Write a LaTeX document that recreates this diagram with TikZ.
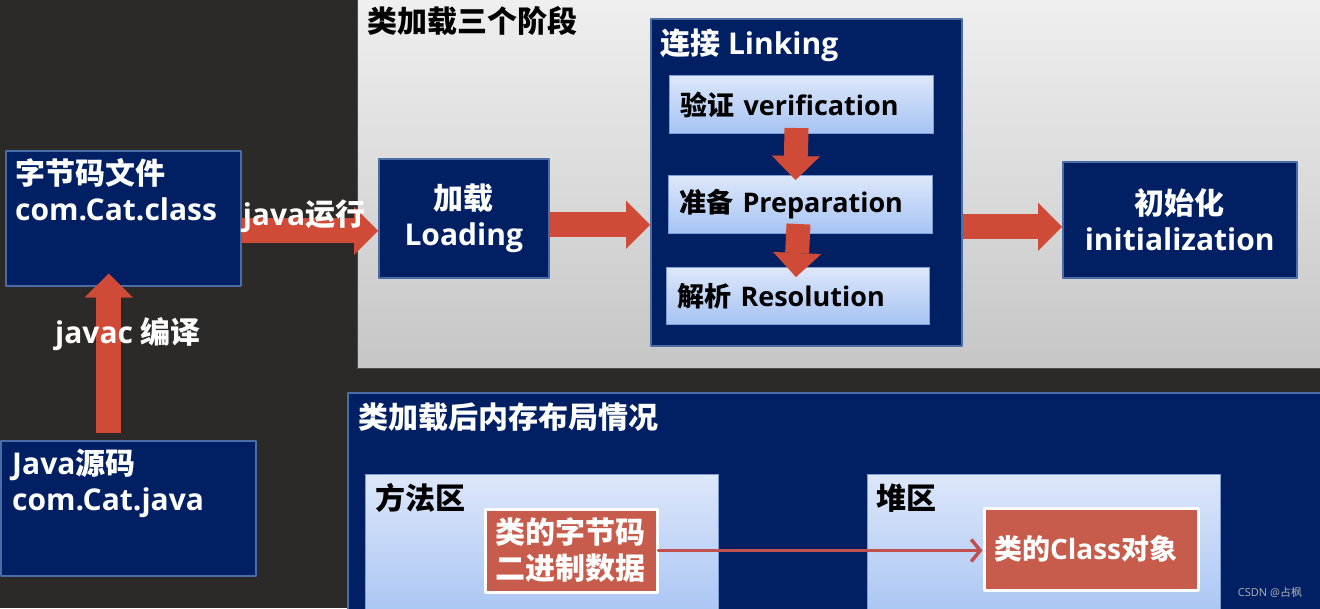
\documentclass[tikz,border=0pt]{standalone}
\usepackage{fontspec}
\setmainfont{Open Sans}
\newfontfamily\cjk{Noto Sans CJK SC}
\newcommand\zh[1]{{\cjk #1}}
\usetikzlibrary{arrows.meta,positioning}
\definecolor{board}{HTML}{2B2A29}
\definecolor{navy}{HTML}{012064}
\definecolor{navyedge}{HTML}{4A6DA7}
\definecolor{arrowred}{HTML}{D04B37}
\definecolor{boxred}{HTML}{C75B4C}
\definecolor{linered}{HTML}{C0504D}
\definecolor{paleblue}{HTML}{DDE7FA}
\definecolor{skyblue}{HTML}{A6C3F3}
\definecolor{paleedge}{HTML}{7F9FD3}
\definecolor{panelhi}{HTML}{EFEFEF}
\definecolor{panello}{HTML}{C6C6C6}

\begin{document}
\begin{tikzpicture}[x=1pt, y=-1pt, line join=round,
  every node/.style={font=\bfseries\fontsize{30}{36}\selectfont, inner sep=0pt},
  navybox/.style={draw=navyedge, line width=1.5pt, fill=navy, text=white, anchor=north west, align=center},
  palebox/.style={draw=paleedge, line width=1pt, top color=paleblue, bottom color=skyblue, anchor=north west},
  steptext/.style={font=\bfseries\fontsize{27}{32}\selectfont, inner xsep=11pt, align=left},
  redbox/.style={draw=white, line width=3pt, fill=boxred, text=white, anchor=north west, align=left, inner xsep=10pt},
  wtxt/.style={text=white},
  btxt/.style={text=black},
  blockarrow/.style={draw=arrowred, line width=25pt, -{Triangle[length=24pt,width=48pt,line width=0.1pt]}},
  linkarrow/.style={draw=linered, line width=3.5pt, line cap=round, -{Straight Barb[length=9pt,width=22pt]}}]
  \useasboundingbox (0,0) rectangle (1320,608);
  \fill[board] (0,0) rectangle (1320,608);

  % left side: source and class file
  \node[navybox, minimum width=235pt, minimum height=135pt] (cls) at (5,150) {};
  \node[wtxt, anchor=north west, align=left] (clsT) at (15,158) {\zh{字节码文件}\\com.Cat.class};
  \node[navybox, minimum width=255pt, minimum height=135pt] (src) at (0,440) {};
  \node[wtxt, anchor=north west, align=left] (srcT) at (12,449) {Java\zh{源码}\\com.Cat.java};
  \draw[blockarrow] ([shift={(-19.5pt,7pt)}]src.north) -- ([shift={(-14.5pt,13pt)}]cls.south);
  \node[wtxt] (javacT) at (128,334) {javac \zh{编译}};

  % three stages of class loading
  \node[anchor=north west, top color=panelhi, bottom color=panello,
    minimum width=966pt, minimum height=368pt] (stage) at (357,0) {};
  \draw[black!70, line width=1pt] (stage.north west) -- (stage.south west) -- (stage.south east);
  \node[btxt, anchor=west] (stageT) at (367,21) {\zh{类加载三个阶段}};
  \node[navybox, minimum width=170pt, minimum height=119pt] (load) at (378,158) {\zh{加载}\\Loading};
  \node[navybox, minimum width=311pt, minimum height=327pt] (link) at (650,18) {};
  \node[wtxt, anchor=west] (linkT) at (660,45) {\zh{连接} Linking};
  \node[palebox, steptext, minimum height=58pt, text width=242pt] (ver) at (669,75) {\zh{验证} verification};
  \node[palebox, steptext, minimum height=58pt, text width=242pt] (prep) at (668,175) {\zh{准备} Preparation};
  \node[palebox, steptext, minimum height=57pt, text width=241pt] (res) at (666,267) {\zh{解析} Resolution};
  \node[navybox, minimum width=234pt, minimum height=116pt] (init) at (1062,161) {\zh{初始化}\\initialization};

  \draw[blockarrow] ([yshift=-12.5pt]cls.east) -- ([yshift=-12.5pt]cls.east -| load.west);
  \node[wtxt] (runT) at (304,216) {java\zh{运行}};
  \draw[blockarrow] ([yshift=-6.5pt]load.east) -- ([yshift=-6.5pt]load.east -| link.west);
  \draw[blockarrow] ([yshift=-7pt]init.west -| link.east) -- ([yshift=-7pt]init.west);
  \draw[blockarrow, line width=24pt] ([shift={(-5pt,6pt)}]ver.south) -- ([shift={(-5pt,-5pt)}]prep.north);
  \draw[blockarrow, line width=24pt] ([shift={(-2pt,10pt)}]prep.south) -- ([shift={(-2pt,-10pt)}]res.north);

  % memory layout after loading
  \node[navybox, minimum width=976pt, minimum height=219pt] (mem) at (347,392) {};
  \node[wtxt, anchor=west] (memT) at (358,417) {\zh{类加载后内存布局情况}};
  \node[palebox, minimum width=353pt, minimum height=150pt] (meth) at (365,474) {};
  \node[btxt, anchor=west] (methT) at (375,498) {\zh{方法区}};
  \node[palebox, minimum width=353pt, minimum height=150pt] (heap) at (867,474) {};
  \node[btxt, anchor=west] (heapT) at (876,498) {\zh{堆区}};
  \node[redbox, minimum height=83pt, text width=152pt] (bytes) at (483.5,507.5) {\zh{类的字节码}\\\zh{二进制数据}};
  \node[redbox, minimum height=82pt, text width=194pt, font=\bfseries\fontsize{28}{34}\selectfont] (clsobj) at (982.5,506.5) {\zh{类的}Class\zh{对象}};
  \draw[linkarrow] (bytes.east) -- (bytes.east -| clsobj.west);

  \node[text=gray!60, font=\fontsize{11}{13}\selectfont] (mark) at (1270,592) {CSDN @\zh{占枫}};
\end{tikzpicture}
\end{document}
